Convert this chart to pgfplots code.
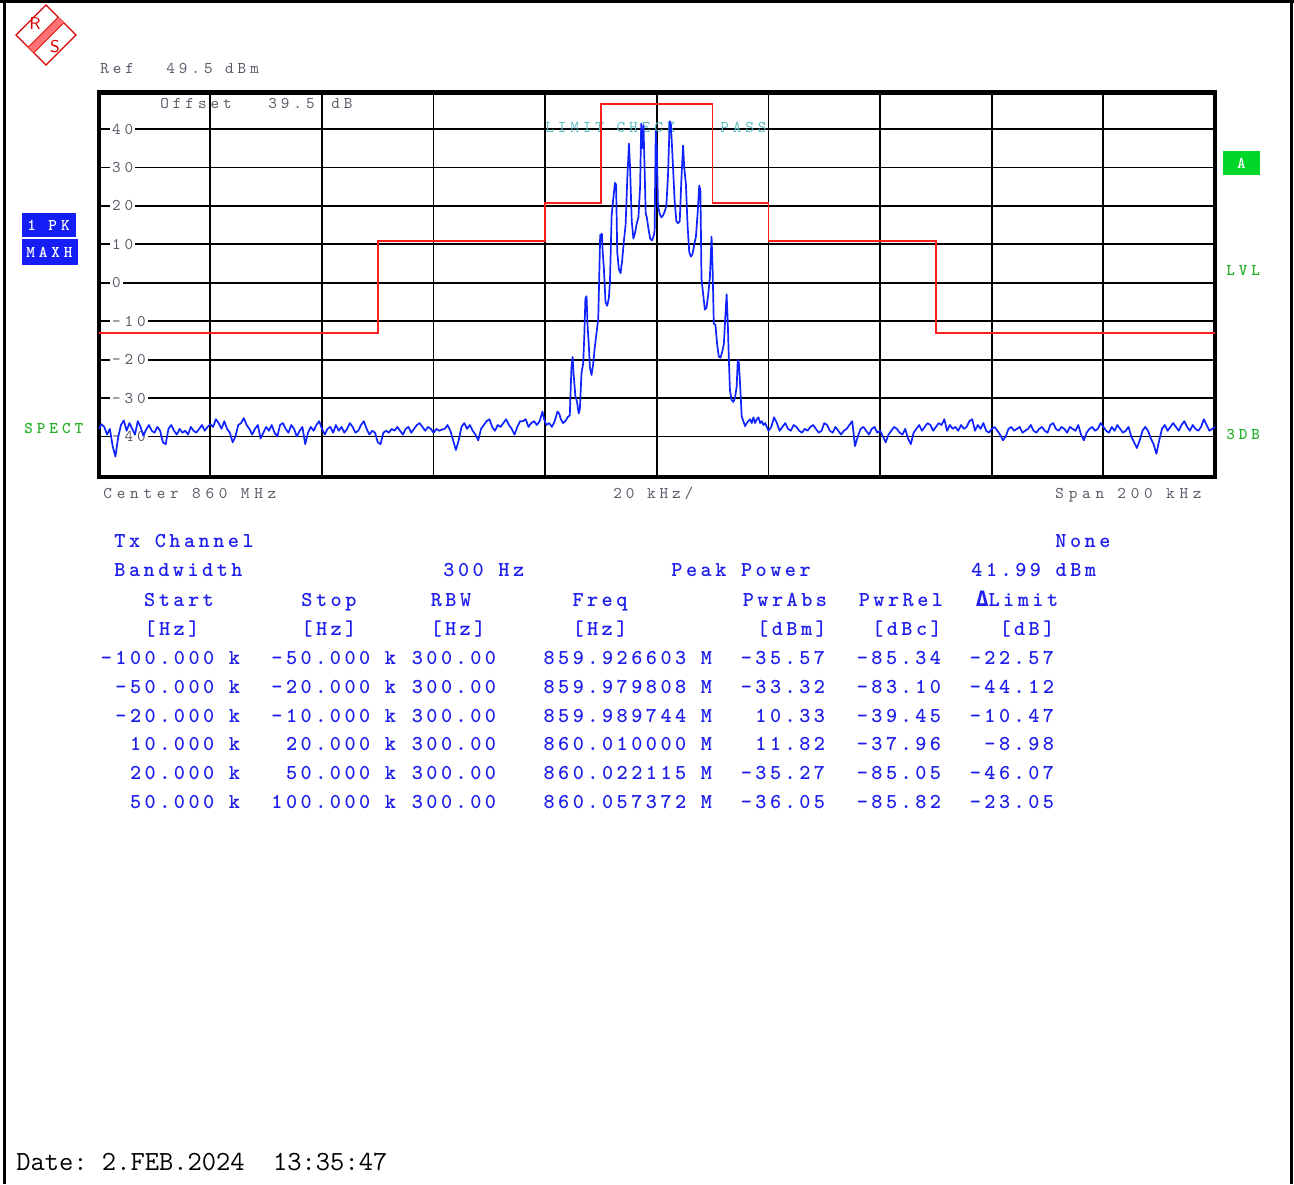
\documentclass[border=0pt]{standalone}
\usepackage{fontspec}
\usepackage{pgfplots}
\pgfplotsset{compat=1.18}
\newfontfamily\dvmono{DejaVu Sans Mono}
\newfontfamily\lmm{lmmono10-regular.otf}[LetterSpace=24,BoldFont=lmmonolt10-bold.otf]
\newfontfamily\lmw{lmmono10-regular.otf}[LetterSpace=29,BoldFont=lmmonolt10-bold.otf]
\newfontfamily\lmt{lmmono10-regular.otf}[LetterSpace=16.5,BoldFont=lmmonolt10-bold.otf]
\newcommand\sg{\lmm\fontsize{8.2pt}{9pt}\selectfont}
\newcommand\sgw{\lmw\fontsize{8.2pt}{9pt}\selectfont}
\newcommand\sgb{\lmm\bfseries\fontsize{8.2pt}{9pt}\selectfont}
\newcommand\tb{\lmt\bfseries\fontsize{10.6pt}{12pt}\selectfont}
\definecolor{rsblue}{RGB}{30,30,235}
\definecolor{rsgray}{RGB}{95,88,105}
\definecolor{rsteal}{RGB}{95,190,195}
\definecolor{rsgreen}{RGB}{40,175,40}
\definecolor{tracec}{RGB}{15,35,255}
\definecolor{boxblue}{RGB}{20,30,245}
\definecolor{boxgreen}{RGB}{0,215,40}
\definecolor{limitc}{RGB}{255,30,30}
\begin{document}
\begin{tikzpicture}[x=0.5pt,y=0.5pt]
\path[use as bounding box] (0,0) rectangle (1294,1184);
% outer frame
\draw[black,line width=1.5pt] (0,1182.5) -- (1294,1182.5);
\draw[black,line width=1.4pt] (4.6,0) -- (4.6,1184);
\draw[black,line width=1.4pt] (1291.3,0) -- (1291.3,1184);
% R&S logo
\draw[red!85!black,line width=0.6pt] (46,1179) -- (76,1149) -- (46,1119) -- (16,1149) -- cycle;
\fill[red!55] (63.8,1161.2) -- (33.8,1131.2) -- (28.2,1136.8) -- (58.2,1166.8) -- cycle;
\draw[red!85!black,line width=0.4pt] (63.8,1161.2) -- (33.8,1131.2) (28.2,1136.8) -- (58.2,1166.8);
\node[text=red!85!black,font=\sffamily\fontsize{8.5pt}{9pt}\selectfont,inner sep=0pt] at (35,1160) {R};
\node[text=red!85!black,font=\sffamily\fontsize{8.5pt}{9pt}\selectfont,inner sep=0pt] at (55,1137) {S};
\begin{axis}[
  at={(49.35pt,353.55pt)}, anchor=south west,
  width=558.15pt, height=192.2pt, scale only axis,
  xmin=-100, xmax=100, ymin=-50.5, ymax=49.5,
  xtick={-80,-60,-40,-20,20,40,60,80}, ytick={-40,-30,...,40},
  xticklabels={}, yticklabels={},
  extra x ticks={0}, extra x tick labels={},
  extra x tick style={grid style={black,line width=1.7pt}},
  grid=major, major grid style={black,line width=0.9pt},
  tick style={draw=none},
  axis line style={black,line width=2.2pt},
]
% y tick labels inside the frame
\foreach \v/\t in {40/40,30/30,20/20,10/10,0/0,-10/-10,-20/-20,-30/-30,-40/-40}{
  \edef\tmp{\noexpand\node[fill=white,inner xsep=1pt,inner ysep=0.6pt,anchor=west,text=rsgray,font=\noexpand\sg] at (axis cs:-98.03,\v) {\t};}
  \tmp
}
\node[anchor=base west,inner sep=0pt,text=rsteal,font=\sg] at (axis cs:-20.06,39.04) {LIMIT CHECK};
\node[anchor=base west,inner sep=0pt,text=rsteal,font=\sg] at (axis cs:11.3,39.04) {PASS};
% limit line
\addplot[limitc,line width=0.8pt] coordinates {
(-100,-13) (-50,-13) (-50,10.8) (-20,10.8) (-20,20.8) (-10,20.8) (-10,46.5)
(10,46.5) (10,20.8) (20,20.8) (20,10.8) (50,10.8) (50,-13) (100,-13)};
% trace 1 PK MAXH
\addplot[tracec,line width=0.85pt,line join=round] table {
-100.0 -38.0
-99.5 -36.8
-99.0 -37.5
-98.5 -39.5
-98.0 -38.0
-97.5 -42.5
-97.0 -45.2
-96.5 -40.0
-96.0 -37.0
-95.5 -35.8
-95.0 -38.5
-94.5 -36.5
-94.0 -38.0
-93.5 -39.5
-93.0 -36.0
-92.5 -37.5
-92.0 -39.8
-91.5 -38.2
-91.0 -37.0
-90.5 -38.5
-90.0 -39.0
-89.5 -37.5
-89.0 -38.5
-88.5 -41.5
-88.0 -42.0
-87.5 -38.0
-87.0 -37.0
-86.5 -38.5
-86.0 -39.5
-85.5 -38.0
-85.0 -39.0
-84.5 -38.5
-84.0 -39.5
-83.5 -37.5
-83.0 -38.5
-82.5 -39.0
-82.0 -38.0
-81.5 -37.0
-81.0 -38.5
-80.5 -37.5
-80.0 -36.8
-79.5 -37.5
-79.0 -35.5
-78.5 -36.5
-78.0 -38.0
-77.5 -36.0
-77.0 -38.0
-76.5 -39.0
-76.0 -41.5
-75.5 -40.0
-75.0 -37.0
-74.5 -36.5
-74.0 -35.2
-73.5 -37.0
-73.0 -38.0
-72.5 -39.5
-72.0 -38.0
-71.5 -37.0
-71.0 -40.5
-70.5 -39.0
-70.0 -37.5
-69.5 -38.5
-69.0 -37.0
-68.5 -39.0
-68.0 -40.0
-67.5 -37.0
-67.0 -36.5
-66.5 -38.0
-66.0 -39.0
-65.5 -37.0
-65.0 -38.0
-64.5 -40.0
-64.0 -38.5
-63.5 -37.5
-63.0 -42.0
-62.5 -39.0
-62.0 -37.5
-61.5 -38.5
-61.0 -37.0
-60.5 -36.0
-60.0 -38.0
-59.5 -39.5
-59.0 -38.0
-58.5 -37.5
-58.0 -39.0
-57.5 -37.0
-57.0 -38.5
-56.5 -37.5
-56.0 -39.0
-55.5 -38.0
-55.0 -36.5
-54.5 -37.5
-54.0 -39.0
-53.5 -38.5
-53.0 -37.0
-52.5 -36.0
-52.0 -38.0
-51.5 -39.5
-51.0 -38.5
-50.5 -39.0
-50.0 -41.5
-49.5 -42.0
-49.0 -39.0
-48.5 -38.5
-48.0 -39.0
-47.5 -38.0
-47.0 -38.5
-46.5 -37.5
-46.0 -38.5
-45.5 -39.5
-45.0 -38.0
-44.5 -37.5
-44.0 -39.0
-43.5 -38.0
-43.0 -37.0
-42.5 -36.5
-42.0 -37.5
-41.5 -38.5
-41.0 -37.5
-40.5 -38.0
-40.0 -39.0
-39.5 -38.0
-39.0 -38.5
-38.5 -38.2
-38.0 -38.0
-37.5 -37.0
-37.0 -38.5
-36.5 -41.0
-36.0 -43.5
-35.5 -41.0
-35.0 -37.5
-34.5 -36.5
-34.0 -38.0
-33.5 -37.0
-33.0 -38.5
-32.5 -39.5
-32.0 -41.0
-31.5 -38.0
-31.0 -37.0
-30.5 -36.0
-30.0 -35.5
-29.5 -37.5
-29.0 -38.5
-28.5 -37.0
-28.0 -37.5
-27.5 -36.5
-27.0 -35.5
-26.5 -37.0
-26.0 -38.0
-25.5 -39.5
-25.0 -37.5
-24.5 -36.0
-24.0 -36.0
-23.5 -35.5
-23.0 -37.5
-22.5 -36.5
-22.0 -36.0
-21.5 -37.0
-21.0 -36.0
-20.5 -33.5
-20.2 -35.5
-19.8 -37.0
-19.3 -36.5
-18.8 -37.5
-18.3 -36.0
-17.8 -33.5
-17.5 -34.0
-17.2 -35.5
-16.8 -36.5
-16.4 -36.0
-16.0 -35.0
-15.6 -34.5
-15.3 -22.0
-15.1 -19.3
-14.9 -24.0
-14.6 -29.5
-14.3 -31.0
-14.0 -34.0
-13.8 -33.0
-13.5 -23.5
-13.2 -21.0
-13.0 -14.0
-12.8 -4.0
-12.6 -3.5
-12.4 -11.5
-12.2 -16.0
-12.0 -22.0
-11.7 -24.0
-11.4 -21.0
-11.1 -16.5
-10.8 -13.0
-10.5 -9.3
-10.3 3.0
-10.15 12.5
-10.0 11.0
-9.85 12.8
-9.7 8.0
-9.5 4.0
-9.2 -5.0
-8.9 -6.0
-8.6 -4.0
-8.4 0.5
-8.1 17.5
-7.8 22.0
-7.5 26.0
-7.3 25.5
-7.1 8.0
-6.8 3.5
-6.5 2.5
-6.2 6.0
-5.9 11.0
-5.6 15.0
-5.3 27.0
-5.0 36.2
-4.8 30.0
-4.5 16.0
-4.2 11.5
-3.9 13.0
-3.6 15.5
-3.3 17.0
-3.0 25.0
-2.8 41.4
-2.6 35.0
-2.4 41.0
-2.2 30.0
-2.0 18.0
-1.8 17.0
-1.5 14.0
-1.2 11.5
-0.9 11.0
-0.6 12.0
-0.4 13.5
-0.2 39.5
0.0 35.0
0.2 20.0
0.5 18.0
0.8 17.0
1.1 17.5
1.4 18.5
1.7 20.0
2.0 28.0
2.3 41.99
2.5 41.5
2.7 36.0
2.9 30.0
3.2 21.0
3.5 16.0
3.8 15.5
4.1 16.0
4.4 27.0
4.7 35.7
4.9 30.0
5.2 25.8
5.5 15.0
5.8 8.0
6.1 6.8
6.4 7.5
6.7 10.0
7.0 12.0
7.3 18.0
7.6 25.3
7.8 24.0
8.0 1.0
8.3 -3.0
8.6 -7.0
8.9 -6.5
9.2 -3.0
9.5 1.4
9.8 12.0
10.0 3.0
10.2 -10.6
10.5 -11.0
10.8 -16.0
11.1 -19.2
11.4 -19.5
11.7 -18.0
12.0 -16.0
12.3 -8.0
12.5 -3.0
12.7 -10.0
12.9 -20.0
13.1 -28.0
13.4 -30.5
13.7 -31.0
14.0 -30.0
14.3 -27.0
14.5 -20.0
14.7 -21.0
14.9 -26.0
15.2 -34.8
15.5 -36.0
15.8 -37.3
16.1 -36.5
16.4 -36.0
16.7 -35.5
17.0 -36.5
17.3 -35.0
17.6 -36.5
17.9 -35.5
18.2 -35.0
18.5 -36.5
18.8 -36.0
19.1 -37.0
19.4 -36.5
19.7 -37.5
20.0 -38.5
20.5 -37.5
21.0 -35.0
21.5 -36.5
22.0 -38.5
22.5 -37.5
23.0 -36.5
23.5 -38.0
24.0 -38.5
24.5 -37.0
25.0 -37.5
25.5 -38.5
26.0 -39.0
26.5 -38.0
27.0 -38.5
27.5 -37.5
28.0 -37.0
28.5 -38.0
29.0 -39.0
29.5 -38.5
30.0 -36.5
30.5 -37.0
31.0 -38.5
31.5 -39.0
32.0 -37.5
32.5 -38.5
33.0 -39.5
33.5 -38.5
34.0 -38.0
34.5 -37.0
35.0 -36.0
35.5 -42.5
36.0 -40.0
36.5 -38.0
37.0 -37.5
37.5 -38.5
38.0 -39.5
38.5 -38.0
39.0 -37.5
39.5 -39.0
40.0 -38.5
40.5 -40.0
41.0 -41.5
41.5 -39.5
42.0 -38.5
42.5 -37.5
43.0 -38.0
43.5 -39.0
44.0 -39.5
44.5 -38.0
45.0 -40.5
45.5 -42.0
46.0 -39.0
46.5 -38.0
47.0 -37.0
47.5 -38.5
48.0 -37.5
48.5 -36.5
49.0 -37.0
49.5 -38.5
50.0 -37.5
50.5 -36.5
51.0 -37.0
51.5 -35.5
52.0 -38.5
52.5 -37.0
53.0 -38.0
53.5 -37.5
54.0 -38.5
54.5 -37.0
55.0 -38.0
55.5 -37.5
56.0 -36.0
56.5 -35.5
57.0 -38.5
57.5 -37.0
58.0 -38.0
58.5 -36.5
59.0 -38.5
59.5 -39.0
60.0 -38.0
60.5 -37.5
61.0 -38.5
61.5 -39.5
62.0 -41.0
62.5 -40.0
63.0 -38.0
63.5 -37.5
64.0 -38.5
64.5 -38.0
65.0 -37.5
65.5 -39.0
66.0 -38.5
66.5 -38.0
67.0 -37.0
67.5 -38.5
68.0 -39.0
68.5 -38.0
69.0 -37.5
69.5 -38.5
70.0 -39.0
70.5 -37.0
71.0 -36.5
71.5 -38.0
72.0 -38.5
72.5 -37.5
73.0 -38.0
73.5 -39.0
74.0 -37.5
74.5 -38.0
75.0 -38.5
75.5 -37.0
76.0 -39.5
76.5 -41.0
77.0 -39.0
77.5 -38.0
78.0 -37.5
78.5 -38.5
79.0 -38.0
79.5 -36.5
80.0 -37.5
80.5 -38.5
81.0 -39.0
81.5 -37.5
82.0 -38.5
82.5 -37.0
83.0 -38.0
83.5 -39.0
84.0 -38.5
84.5 -37.5
85.0 -40.0
85.5 -41.5
86.0 -43.0
86.5 -41.0
87.0 -38.5
87.5 -37.5
88.0 -38.5
88.5 -40.5
89.0 -42.0
89.5 -44.5
90.0 -41.0
90.5 -38.0
91.0 -37.0
91.5 -38.5
92.0 -37.5
92.5 -36.5
93.0 -37.5
93.5 -38.5
94.0 -37.0
94.5 -36.0
95.0 -37.5
95.5 -38.5
96.0 -37.0
96.5 -38.0
97.0 -38.5
97.5 -37.5
98.0 -35.5
98.5 -37.0
99.0 -38.5
99.5 -38.0
100.0 -37.5
};
\end{axis}
% texts above/inside the screen
\node[anchor=base west,inner sep=0pt,text=rsgray,font=\sg] at (100,1110) {Ref};
\node[anchor=base west,inner sep=0pt,text=rsgray,font=\sg] at (166,1110) {49.5 dBm};
\node[anchor=base west,inner sep=0pt,text=rsgray,font=\sg] at (160,1075) {Offset};
\node[anchor=base west,inner sep=0pt,text=rsgray,font=\sg] at (268,1075) {39.5};
\node[anchor=base west,inner sep=0pt,text=rsgray,font=\sg] at (331,1075) {dB};
% side annotations
\node[fill=boxblue,text=white,minimum width=27pt,minimum height=12pt,inner sep=0pt,font=\sgb] at (48.5,959) {1 PK};
\node[fill=boxblue,text=white,minimum width=28pt,minimum height=13pt,inner sep=0pt,font=\sgb] at (49.5,932) {MAXH};
\node[anchor=base west,inner sep=0pt,text=rsgreen,font=\sgb] at (24,750) {SPECT};
\node[fill=boxgreen,text=white,minimum width=18.5pt,minimum height=12pt,inner sep=0pt,font=\sgb] at (1241.5,1021) {A};
\node[anchor=base west,inner sep=0pt,text=rsgreen,font=\sgb] at (1226,908) {LVL};
\node[anchor=base west,inner sep=0pt,text=rsgreen,font=\sgb] at (1226,744) {3DB};
% bottom of screen
\node[anchor=base west,inner sep=0pt,text=rsgray,font=\sgw] at (103,685) {Center 860 MHz};
\node[anchor=base west,inner sep=0pt,text=rsgray,font=\sg] at (613,685) {20 kHz/};
\node[anchor=base west,inner sep=0pt,text=rsgray,font=\sgw] at (1055,685) {Span 200 kHz};
% table
\begin{scope}[every node/.style={inner sep=0pt,text=rsblue,font=\tb}]
\node[anchor=base west] at (114,636.5) {Tx Channel};
\node[anchor=base west] at (1055,636.5) {None};
\node[anchor=base west] at (114,607.5) {Bandwidth};
\node[anchor=base west] at (443,607.5) {300 Hz};
\node[anchor=base west] at (671,607.5) {Peak Power};
\node[anchor=base west] at (971,607.5) {41.99 dBm};
\node[anchor=base] at (179,577.5) {Start};
\node[anchor=base] at (329,577.5) {Stop};
\node[anchor=base] at (451,577.5) {RBW};
\node[anchor=base] at (600,577.5) {Freq};
\node[anchor=base] at (785,577.5) {PwrAbs};
\node[anchor=base] at (901,577.5) {PwrRel};
\node[anchor=base] at (1017,577.5) {{\dvmono\bfseries\fontsize{10.6pt}{12pt}\selectfont Δ}Limit};
\node[anchor=base] at (172,548.5) {[Hz]};
\node[anchor=base] at (329,548.5) {[Hz]};
\node[anchor=base] at (458,548.5) {[Hz]};
\node[anchor=base] at (600,548.5) {[Hz]};
\node[anchor=base] at (792,548.5) {[dBm]};
\node[anchor=base] at (907,548.5) {[dBc]};
\node[anchor=base] at (1027,548.5) {[dB]};
\foreach \y/\a/\b/\c/\d/\e/\f/\g in {
 519.5/-100.000 k/-50.000 k/300.00/859.926603 M/-35.57/-85.34/-22.57,
 490.5/-50.000 k/-20.000 k/300.00/859.979808 M/-33.32/-83.10/-44.12,
 461.5/-20.000 k/-10.000 k/300.00/859.989744 M/10.33/-39.45/-10.47,
 433.5/10.000 k/20.000 k/300.00/860.010000 M/11.82/-37.96/-8.98,
 404.5/20.000 k/50.000 k/300.00/860.022115 M/-35.27/-85.05/-46.07,
 375.5/50.000 k/100.000 k/300.00/860.057372 M/-36.05/-85.82/-23.05}{
  \node[anchor=base east] at (240.5,\y) {\a};
  \node[anchor=base east] at (396.5,\y) {\b};
  \node[anchor=base east] at (496.5,\y) {\c};
  \node[anchor=base east] at (712.5,\y) {\d};
  \node[anchor=base east] at (825.5,\y) {\e};
  \node[anchor=base east] at (941.5,\y) {\f};
  \node[anchor=base east] at (1054.5,\y) {\g};
}
\end{scope}
\node[anchor=base west,inner sep=0pt,text=black,font=\ttfamily\fontsize{13.85pt}{15pt}\selectfont] at (16,14) {Date:\ 2.FEB.2024\ \ 13:35:47};
\end{tikzpicture}
\end{document}
